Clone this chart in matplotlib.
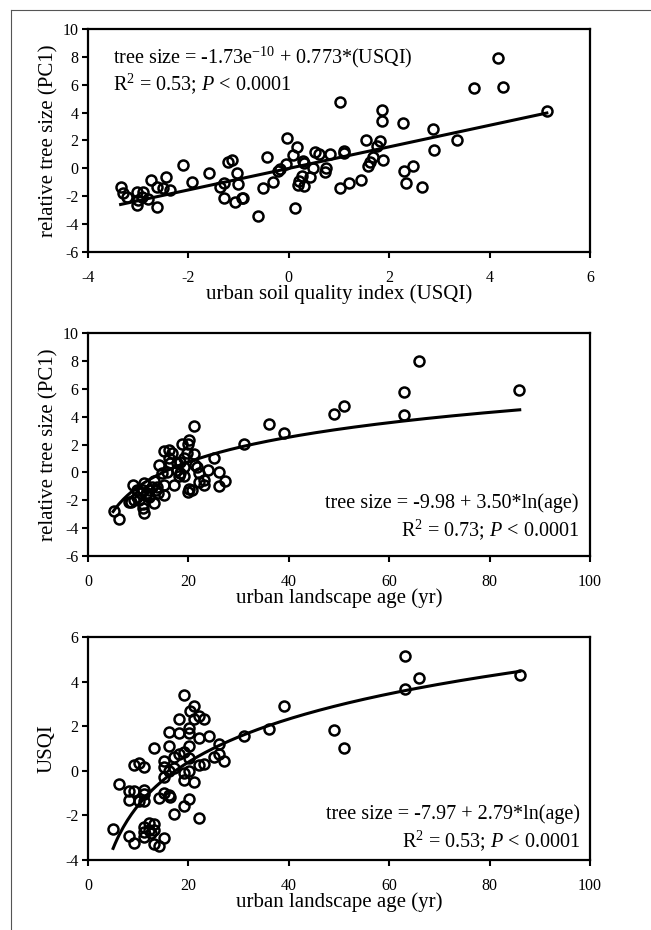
import numpy as np
import matplotlib
matplotlib.use("Agg")
import matplotlib.pyplot as plt
from matplotlib.lines import Line2D

plt.rcParams['font.family'] = ['Liberation Serif', 'DejaVu Serif']
plt.rcParams['mathtext.fontset'] = 'custom'
plt.rcParams['mathtext.rm'] = 'Liberation Serif'
plt.rcParams['mathtext.it'] = 'Liberation Serif:italic'
plt.rcParams['mathtext.bf'] = 'Liberation Serif:bold'
plt.rcParams['axes.unicode_minus'] = False

# ---------------- Panel 1: tree size vs USQI ----------------
usqi_p1 = [4.16, 3.68, 4.27, 5.14, 1.02, 1.85, 1.85, 2.28, 2.88, 3.36,
           2.89, -0.04, 0.16, 0.09, 1.53, 1.82, 1.75, 1.68, 1.62, 1.58,
           1.88, 0.52, 0.61, 0.82, 1.09, 1.10, 0.29, 0.31, -0.06, -0.18,
           -0.21, 0.49, 0.74, 0.72, 0.26, 0.42, 0.21, 0.19, 0.31, 0.12,
           -0.43, -0.31, -0.51, -0.61, 1.02, 1.19, 1.44, 2.29, 2.48, 2.33,
           2.66, -2.10, -1.92, -1.59, -1.22, -1.14, -1.04, -1.01, -1.30, -1.37,
           -1.29, -1.08, -0.91, -0.93, -3.35, -3.30, -3.23, -3.03, -2.90, -3.00,
           -3.02, -2.80, -2.75, -2.62, -2.63, -2.45, -2.50, -2.37, -2.93]
size_p1 = [7.94, 5.74, 5.86, 4.14, 4.74, 4.19, 3.42, 3.28, 2.83, 2.04,
           1.32, 2.20, 1.51, 0.96, 2.01, 1.99, 1.61, 0.84, 0.48, 0.17,
           0.60, 1.20, 1.03, 1.01, 1.08, 1.27, 0.55, 0.36, 0.29, -0.07,
           -0.16, 0.00, 0.00, -0.28, -0.55, -0.59, -0.90, -1.19, -1.24, -2.86,
           0.82, -0.95, -1.38, -3.41, -1.43, -1.05, -0.83, -0.16, 0.17, -1.05,
           -1.36, 0.22, -0.95, -0.31, 0.44, 0.60, -0.35, -1.14, -1.02, -1.31,
           -2.15, -2.39, -2.15, -2.10, -1.36, -1.74, -2.03, -1.67, -1.67, -2.27,
           -2.63, -2.22, -0.86, -1.36, -2.79, -0.59, -1.43, -1.55, -2.03]
fit1_intercept, fit1_slope = -1.73e-10, 0.773

# ---------------- Panel 2: tree size vs age ----------------
age_p2 = [66, 63, 85.9, 51, 49.1, 63, 36.1, 39, 31, 21.1,
          25.1, 26.1, 26.1, 27.2, 23.9, 23.1, 23.1, 22.1, 22.1, 21.8,
          20.8, 19.9, 20.1, 18.8, 20.1, 19.9, 19.8, 21.1, 19.1, 18.4,
          17.8, 19.1, 18.4, 19.2, 18.1, 15.1, 16.1, 16.1, 16.4, 14.1,
          14.8, 15.8, 17.1, 15.1, 15.1, 13.1, 13.5, 13.9, 13.1, 11.1,
          11.0, 10.5, 11.5, 12.1, 11.8, 9.8, 9.0, 9.2, 8.2, 8.5,
          11.0, 11.1, 11.0, 5.2, 6.2, 12.1, 12.8, 9.8, 13.8, 10.1,
          17.8, 16.8, 21.4]
size_p2 = [7.96, 5.76, 5.90, 4.78, 4.20, 4.13, 3.46, 2.84, 2.07, 3.34,
           1.04, 0.01, -0.95, -0.59, 0.18, -0.54, -0.92, -0.06, -0.66, 0.42,
           -1.26, -1.38, -1.16, 2.07, 2.34, 2.05, 1.38, 1.33, 1.02, 0.78,
           0.66, 0.42, -0.06, -0.23, -0.25, 1.50, 1.57, 1.02, 0.66, 0.54,
           -0.06, 0.06, -0.90, -0.90, -1.62, -0.59, -1.26, -1.45, -2.22, -0.78,
           -1.26, -1.50, -1.62, -1.74, -1.45, -1.30, -0.90, -1.98, -2.10, -2.10,
           -2.57, -2.89, -2.26, -2.74, -3.37, -1.26, -1.02, -1.74, -1.02, -1.98,
           0.18, 1.38, 0.54]
fit2_intercept, fit2_slope = -6.94, 2.566
fit2_age_range = (5, 86)

# ---------------- Panel 3: USQI vs age ----------------
age_p3 = [63.1, 66, 63.1, 86, 39.1, 36.1, 49, 51, 31.1, 19.2,
          21.2, 20.25, 22.2, 23.2, 18.1, 21.2, 20.2, 18.1, 16.1, 20.2,
          24.2, 22.2, 13.1, 16.1, 20.2, 26.1, 26.1, 25, 27.1, 18.1,
          19.1, 17.2, 20.2, 22.2, 23.2, 15.1, 15.1, 17.1, 16.1, 15.1,
          19.2, 20.2, 19.2, 21.2, 9.1, 10.1, 11.1, 6.2, 8.1, 9.1,
          11.1, 11.1, 8.1, 10.1, 11.1, 14.1, 15.1, 16.1, 16.3, 20.2,
          19.2, 17.2, 22.2, 5.0, 8.1, 9.1, 11.1, 11.1, 11.1, 12.1,
          12.1, 13.1, 13.1, 13.2, 14.2, 15.2, 12.6]
usqi_p3 = [5.16, 4.17, 3.69, 4.28, 2.89, 1.87, 1.85, 1.03, 1.54, 3.38,
           2.89, 2.66, 2.47, 2.33, 2.33, 2.33, 1.91, 1.69, 1.76, 1.69,
           1.58, 1.46, 1.04, 1.09, 1.13, 1.21, 0.76, 0.64, 0.42, 0.76,
           0.84, 0.61, 0.57, 0.27, 0.31, 0.46, 0.19, 0.12, -0.03, -0.26,
           -0.11, -0.03, -0.41, -0.48, 0.24, 0.34, 0.15, -0.60, -0.89, -0.90,
           -0.86, -1.05, -1.31, -1.35, -1.34, -1.20, -0.98, -1.08, -1.16, -1.28,
           -1.60, -1.93, -2.10, -2.62, -2.92, -3.22, -2.50, -2.73, -2.98, -2.32,
           -2.65, -2.38, -2.65, -3.30, -3.37, -3.03, -2.80]
fit3_intercept, fit3_slope = -7.97, 2.79
fit3_age_range = (5, 86)

W, H = 651, 930
fig = plt.figure(figsize=(W / 100, H / 100), dpi=100)

# thin frame lines (top and left)
fig.add_artist(Line2D([11 / W, 1.0], [1 - 10.5 / H, 1 - 10.5 / H], color='#555555', lw=0.8))
fig.add_artist(Line2D([11 / W, 11 / W], [0.0, 1 - 10.5 / H], color='#555555', lw=0.8))

def make_ax(left_px, top_px, right_px, bottom_px):
    return fig.add_axes([left_px / W, 1 - bottom_px / H,
                         (right_px - left_px) / W, (bottom_px - top_px) / H])

def style(ax):
    for sp in ax.spines.values():
        sp.set_linewidth(1.6)
    ax.tick_params(direction='out', length=4, width=1.5, labelsize=11.5,
                   top=False, right=False)
    ax.tick_params(axis='x', pad=9)
    ax.tick_params(axis='y', pad=3)

mk = dict(linestyle='none', marker='o', mfc='none', mec='black', ms=7.2, mew=1.8)
lab_fs = 15
ann_fs = 14.5

# Panel 1
ax1 = make_ax(88, 29, 590, 252)
ax1.plot(usqi_p1, size_p1, **mk)
xl = np.array([min(usqi_p1), max(usqi_p1)])
ax1.plot(xl, fit1_intercept + fit1_slope * xl, color='black', lw=2.2)
ax1.set_xlim(-4, 6)
ax1.set_ylim(-6, 10)
ax1.set_xticks([-4, -2, 0, 2, 4, 6])
ax1.set_yticks(range(-6, 11, 2))
ax1.set_xlabel('urban soil quality index (USQI)', fontsize=lab_fs, labelpad=-1)
ax1.set_ylabel('relative tree size (PC1)', fontsize=lab_fs, labelpad=3)
ax1.text(0.05, 0.8475, r'tree size = -1.73e$^{\mathrm{-10}}$ + 0.773*(USQI)',
         transform=ax1.transAxes, fontsize=ann_fs, va='baseline', ha='left')
ax1.text(0.05, 0.7265, r'R$^{\mathrm{2}}$ = 0.53; $P$ < 0.0001',
         transform=ax1.transAxes, fontsize=ann_fs, va='baseline', ha='left')
style(ax1)

# Panel 2
ax2 = make_ax(88, 333, 590, 556)
ax2.plot(age_p2, size_p2, **mk)
ag = np.linspace(fit2_age_range[0], fit2_age_range[1], 200)
ax2.plot(ag, fit2_intercept + fit2_slope * np.log(ag), color='black', lw=2.2)
ax2.set_xlim(0, 100)
ax2.set_ylim(-6, 10)
ax2.set_xticks(range(0, 101, 20))
ax2.set_yticks(range(-6, 11, 2))
ax2.set_xlabel('urban landscape age (yr)', fontsize=lab_fs, labelpad=-1)
ax2.set_ylabel('relative tree size (PC1)', fontsize=lab_fs, labelpad=3)
ax2.text(0.978, 0.215, 'tree size = -9.98 + 3.50*ln(age)',
         transform=ax2.transAxes, fontsize=ann_fs, va='baseline', ha='right')
ax2.text(0.978, 0.091, r'R$^{\mathrm{2}}$ = 0.73; $P$ < 0.0001',
         transform=ax2.transAxes, fontsize=ann_fs, va='baseline', ha='right')
style(ax2)

# Panel 3
ax3 = make_ax(88, 637, 590, 860)
ax3.plot(age_p3, usqi_p3, **mk)
ag3 = np.linspace(fit3_age_range[0], fit3_age_range[1], 200)
ax3.plot(ag3, fit3_intercept + fit3_slope * np.log(ag3), color='black', lw=2.2)
ax3.set_xlim(0, 100)
ax3.set_ylim(-4, 6)
ax3.set_xticks(range(0, 101, 20))
ax3.set_yticks(range(-4, 7, 2))
ax3.set_xlabel('urban landscape age (yr)', fontsize=lab_fs, labelpad=-1)
ax3.set_ylabel('USQI', fontsize=lab_fs, labelpad=6)
ax3.text(0.981, 0.184, 'tree size = -7.97 + 2.79*ln(age)',
         transform=ax3.transAxes, fontsize=ann_fs, va='baseline', ha='right')
ax3.text(0.981, 0.06, r'R$^{\mathrm{2}}$ = 0.53; $P$ < 0.0001',
         transform=ax3.transAxes, fontsize=ann_fs, va='baseline', ha='right')
style(ax3)

fig.savefig('out.png', dpi=100, facecolor='white')
